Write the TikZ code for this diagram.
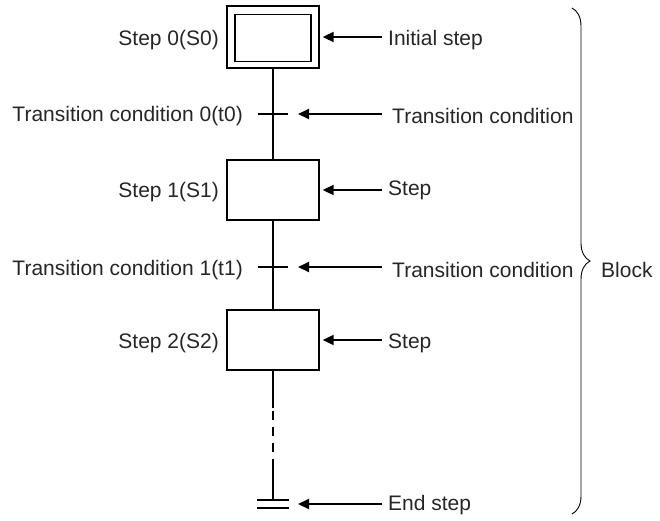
\documentclass[tikz,border=0pt]{standalone}
\usepackage{fontspec}
\setmainfont{Liberation Sans}
\usetikzlibrary{arrows.meta,decorations.pathreplacing,positioning}

\tikzset{
  stepbox/.style={draw, line width=1.4pt, minimum width=92pt, minimum height=60pt, inner sep=0pt},
  txt/.style={inner sep=0pt, text=black!85},
  flow/.style={line width=2pt},
  pointer/.style={line width=2pt, -{Triangle[length=11pt,width=10pt]}},
}

\begin{document}
\begin{tikzpicture}[x=1pt, y=-1pt, font=\fontsize{21}{25}\selectfont]
    \useasboundingbox (0,0) rectangle (660,520);
    % steps
    \node[stepbox, minimum height=62pt] (s0) at (273,37) {};
    \node[stepbox, minimum width=76pt, minimum height=47pt] (s0in) at (273,38) {};
    \node[stepbox] (s1) at (273,190) {};
    \node[stepbox] (s2) at (273,340) {};
    \coordinate (t0) at (273,114);
    \coordinate (t1) at (273,267);
    \coordinate (d0) at (273,408);
    \coordinate (d1) at (273,462);
    \coordinate (e) at (273,504);
    % main line
    \draw[flow] (s0.south) -- (s1.north);
    \draw[flow] (s1.south) -- (s2.north);
    \draw[flow] (s2.south) -- (d0);
    \draw[flow, dash pattern=on 9pt off 7pt, dash phase=-3pt] (d0) -- (d1);
    \draw[flow] (d1) -- ([yshift=4pt]e);
    \draw[flow] (t0) +(-15,0) -- +(15,0);
    \draw[flow] (t1) +(-15,0) -- +(15,0);
    \draw[flow] (e) +(-16,-4) -- +(16,-4) (e) +(-16,4) -- +(16,4);
    % labels on the left
    \node[txt, anchor=east] (ls0) at (219,40) {Step 0(S0)};
    \node[txt, anchor=east] (lt0) at (243,116) {Transition condition 0(t0)};
    \node[txt, anchor=east] (ls1) at (219,192) {Step 1(S1)};
    \node[txt, anchor=east] (lt1) at (243,270) {Transition condition 1(t1)};
    \node[txt, anchor=east] (ls2) at (219,343) {Step 2(S2)};
    % labels on the right
    \node[txt, anchor=west] (ri) at (388,40) {Initial step};
    \node[txt, anchor=west] (rt0) at (392,116) {Transition condition};
    \node[txt, anchor=west] (rs1) at (388,190) {Step};
    \node[txt, anchor=west] (rt1) at (392,270) {Transition condition};
    \node[txt, anchor=west] (rs2) at (388,343) {Step};
    \node[txt, anchor=west] (re) at (388,505) {End step};
    % pointers
    \draw[pointer] ([xshift=-6pt]ri.west |- s0.east) -- ([xshift=3pt]s0.east);
    \draw[pointer] ([xshift=-10pt]rt0.west |- t0) -- ([xshift=25pt]t0);
    \draw[pointer] ([xshift=-6pt]rs1.west |- s1.east) -- ([xshift=3pt]s1.east);
    \draw[pointer] ([xshift=-10pt]rt1.west |- t1) -- ([xshift=25pt]t1);
    \draw[pointer] ([xshift=-6pt]rs2.west |- s2.east) -- ([xshift=3pt]s2.east);
    \draw[pointer] ([xshift=-6pt]re.west |- e) -- ([xshift=25pt]e);
    % block
    \coordinate (bt) at (572,8);
    \coordinate (bb) at (572,514);
    \draw[line width=0.9pt, decorate, decoration={brace, amplitude=18pt}] (bt) -- (bb);
    \node[txt, anchor=west] (blk) at (601,270) {Block};
\end{tikzpicture}
\end{document}
